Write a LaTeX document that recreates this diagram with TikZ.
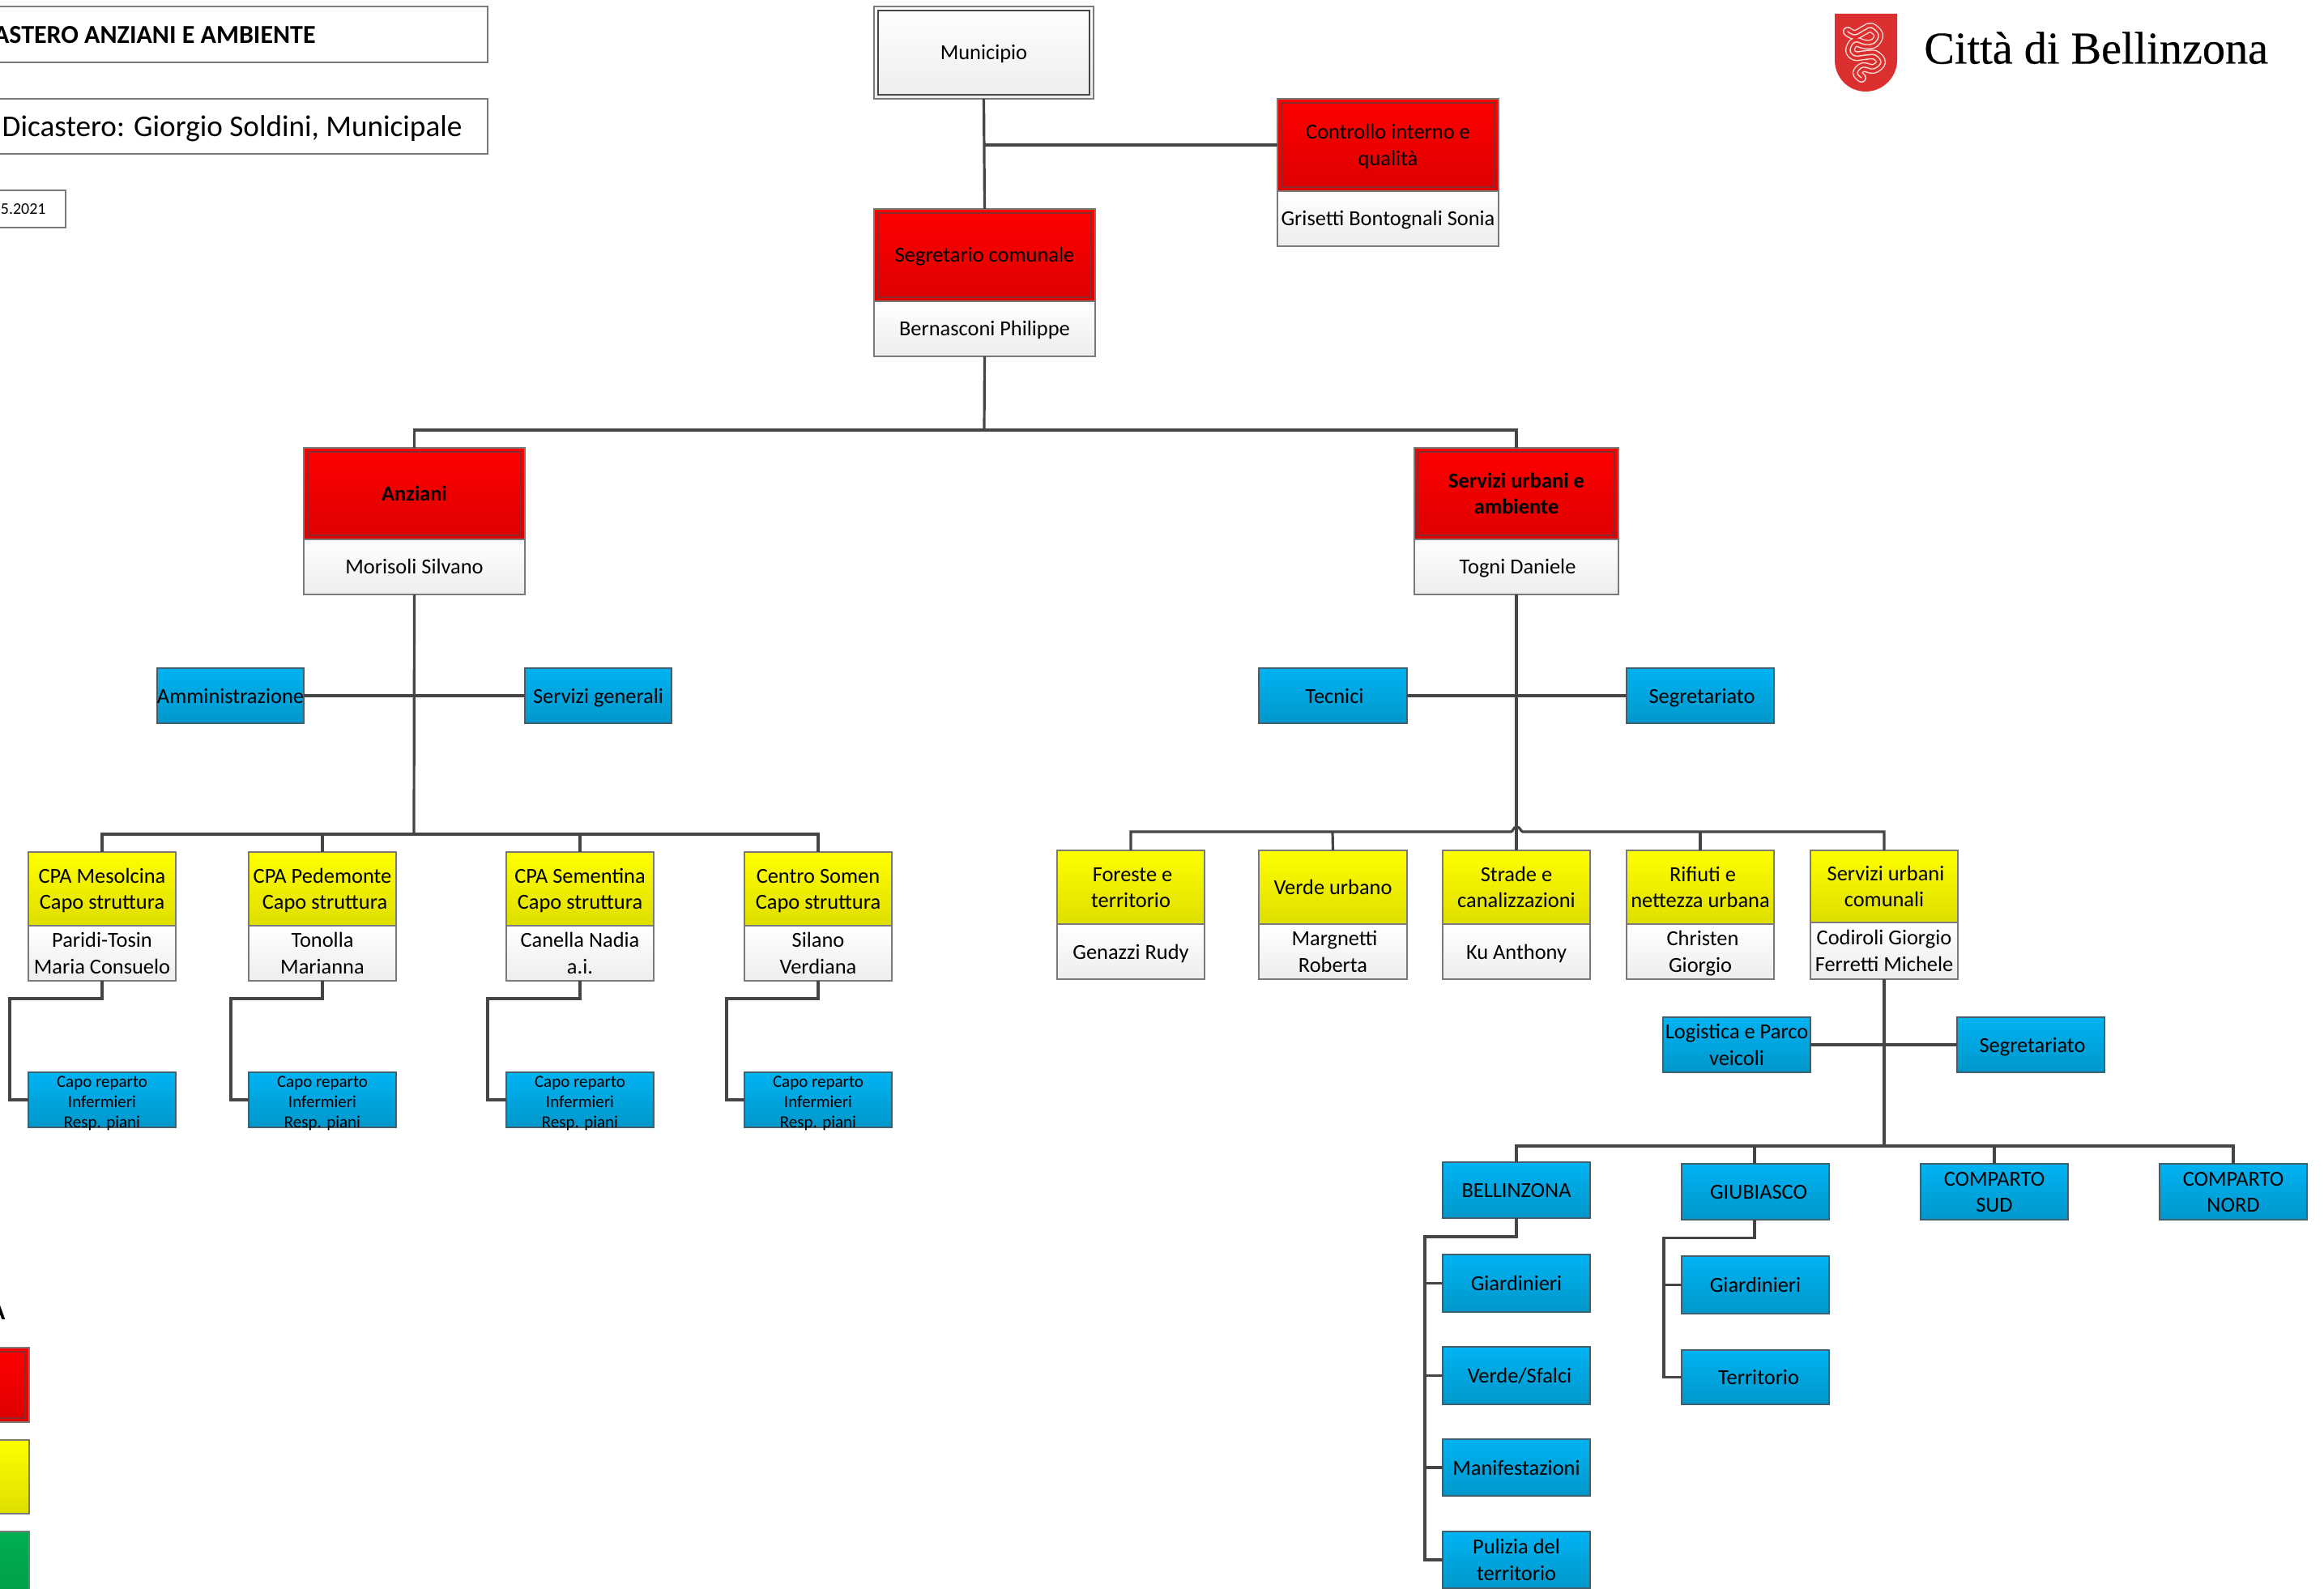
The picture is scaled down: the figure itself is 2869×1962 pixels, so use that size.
\documentclass[tikz,border=0pt]{standalone}
\usepackage{fontspec}
\setmainfont{Carlito}
\newfontfamily\logofont[FakeBold=0.4]{Liberation Serif}
\definecolor{linec}{HTML}{454545}
\definecolor{edgeg}{HTML}{7A7A7A}
\definecolor{edgeb}{HTML}{40606E}
\definecolor{shieldc}{HTML}{DC2F2F}
\definecolor{insetr}{HTML}{8B2A2A}
\definecolor{snakec}{HTML}{F7DED6}
\definecolor{blue1}{HTML}{00B3F2}
\definecolor{blue2}{HTML}{0097CB}
\definecolor{green1}{HTML}{00B050}
\definecolor{green2}{HTML}{009A46}
\newcommand\boxtop{\rule{0pt}{11.5pt}}
\newcommand\boxbot{\rule[-2.5pt]{0pt}{2.5pt}}
\tikzset{
  x=0.5pt,y=-0.5pt,
  base/.style={rectangle,inner sep=0pt,outer sep=0pt,align=center,text=black,line width=1pt,font=\fontsize{13.2}{16.2}\selectfont},
  whitebox/.style={base,draw=edgeg,top color=white,bottom color=white!93!black},
  redbox/.style={base,draw=edgeg,top color=red,bottom color=red!87!black},
  yellowbox/.style={base,draw=edgeg,top color=yellow,bottom color=yellow!87!black},
  bluebox/.style={base,draw=edgeb,top color=blue1,bottom color=blue2},
  greenbox/.style={base,draw=edgeg,top color=green1,bottom color=green2},
  titlebox/.style={base,draw=edgeg,fill=white},
  small/.style={inner sep=0pt,align=center,text=black,font=\fontsize{10.5}{12.5}\selectfont},
  bold/.style={font=\fontsize{13.2}{16.2}\selectfont\bfseries},
  conn/.style={draw=linec,line width=1.6pt,line join=miter},
  innerline/.style={draw=#1,line width=0.8pt},
}
\newcommand\orgbox[7]{%
  \pgfmathsetmacro\bxw{(#4-#2)*0.5}\pgfmathsetmacro\byh{(#5-#3)*0.5}%
  \node[#6,minimum width=\bxw pt,minimum height=\byh pt] (#1) at ({(#2+#4)/2},{(#3+#5)/2}) {\boxtop#7\boxbot};}
\newcommand\repbox[3]{%
  \pgfmathsetmacro\bxw{(#3-#2)*0.5}%
  \node[bluebox,minimum width=\bxw pt,minimum height=34pt] (#1) at ({(#2+#3)/2},1358) {};
  \node[small] (#1t) at (#1.center) {\rule{0pt}{11.2pt}Capo reparto\\Infermieri\\Resp. piani\rule[-2pt]{0pt}{2pt}};}
\newcommand\inset[2]{\draw[innerline=#2] ([xshift=2.4pt,yshift=2.4pt]#1.south west) rectangle ([xshift=-2.4pt,yshift=-2.4pt]#1.north east);}
\newcommand\elbow[3]{%
  \coordinate (#1v) at (#3,1233);
  \draw[conn] (#2.south) |- (#1v) |- (#1.west);}
\begin{document}
\begin{tikzpicture}
\clip (0,0) rectangle (2869,1962);
\fill[white] (0,0) rectangle (2869,1962);

% title boxes
\orgbox{tA}{-60}{8}{602}{77}{titlebox}{}
\orgbox{tB}{-60}{122}{602}{190}{titlebox}{}
\orgbox{tC}{-60}{235}{81}{281}{titlebox}{}
\node[anchor=east,inner sep=0pt,font=\fontsize{16}{18}\selectfont\bfseries] (tAt) at (390,43) {ASTERO ANZIANI E AMBIENTE};
\node[anchor=east,inner sep=0pt,font=\fontsize{18.6}{22}\selectfont] (tBt) at (571,159) {Dicastero: Giorgio Soldini, Municipale};
\node[anchor=east,inner sep=0pt,font=\fontsize{10}{12}\selectfont] (tCt) at (57,258) {5.2021};

% logo
\path[fill=shieldc] (2265,17) -- (2342,17) -- (2342,74) .. controls (2342,96) and (2324,113) .. (2303,113) .. controls (2282,113) and (2265,96) .. (2265,74) -- cycle;
\foreach \w/\c in {6/snakec,4.6/shieldc,0.7/snakec}{
  \draw[line width=\w pt,color=\c,line cap=round] plot[smooth,tension=0.65] coordinates {(2281,39) (2290,43) (2302,37) (2310,34) (2319,43) (2314,53) (2303,55) (2290,52) (2284,62) (2290,69) (2303,68) (2315,68) (2322,77) (2313,85) (2300,83) (2293,90) (2298,96)};
}
\node[anchor=base west,inner sep=0pt,font=\logofont\fontsize{28.1}{30}\selectfont] (logot) at (2375,78.5) {Città di Bellinzona};

% top
\orgbox{mun}{1079}{8}{1350}{122}{whitebox}{Municipio}
\inset{mun}{linec}
\orgbox{ctr}{1577}{122}{1850}{236}{redbox}{Controllo interno e\\qualità}
\inset{ctr}{insetr}
\orgbox{ctrw}{1577}{236}{1850}{304}{whitebox}{Grisetti Bontognali Sonia}
\orgbox{seg}{1079}{258}{1352}{372}{redbox}{Segretario comunale}
\inset{seg}{insetr}
\orgbox{segw}{1079}{372}{1352}{440}{whitebox}{Bernasconi Philippe}
\coordinate (j0) at (1215,179);
\draw[conn] (mun.south) -- (seg.north);
\draw[conn,line width=1.7pt] (j0) -- (ctr.west);

% directions
\orgbox{anz}{375}{553}{648}{666}{redbox,bold}{Anziani}
\inset{anz}{insetr}
\orgbox{anzw}{375}{666}{648}{734}{whitebox}{Morisoli Silvano}
\orgbox{srv}{1746}{553}{1998}{666}{redbox,bold}{Servizi urbani e\\ambiente}
\inset{srv}{insetr}
\orgbox{srvw}{1746}{666}{1998}{734}{whitebox}{\hspace*{1.5pt}Togni Daniele}
\coordinate (bus0) at (1215,531);
\draw[conn] (segw.south) -- (bus0);
\draw[conn] (bus0) -| (anz.north);
\draw[conn] (bus0) -| (srv.north);

% staff left
\orgbox{amm}{194}{825}{375}{893}{bluebox}{Amministrazione}
\orgbox{sgen}{648}{825}{829}{893}{bluebox}{Servizi generali}
\draw[conn] (amm.east) -- (sgen.west);

% CPA
\orgbox{cpa1}{35}{1052}{217}{1143}{yellowbox}{CPA Mesolcina\\Capo struttura}
\orgbox{cpa1w}{35}{1143}{217}{1211}{whitebox}{Paridi-Tosin\\Maria Consuelo}
\orgbox{cpa2}{307}{1052}{489}{1143}{yellowbox}{CPA Pedemonte\\\hspace*{3pt}Capo struttura}
\orgbox{cpa2w}{307}{1143}{489}{1211}{whitebox}{Tonolla\\Marianna}
\orgbox{cpa3}{625}{1052}{807}{1143}{yellowbox}{CPA Sementina\\Capo struttura}
\orgbox{cpa3w}{625}{1143}{807}{1211}{whitebox}{Canella Nadia\\a.i.}
\orgbox{cpa4}{919}{1052}{1101}{1143}{yellowbox}{Centro Somen\\Capo struttura}
\orgbox{cpa4w}{919}{1143}{1101}{1211}{whitebox}{Silano\\Verdiana}
\coordinate (bus1) at (511,1030);
\draw[conn] (anzw.south) -- (bus1);
\draw[conn] (bus1) -| (cpa1.north);
\draw[conn] (bus1) -| (cpa2.north);
\draw[conn] (bus1) -| (cpa3.north);
\draw[conn] (bus1) -| (cpa4.north);

\repbox{rep1}{35}{217}
\repbox{rep2}{307}{489}
\repbox{rep3}{625}{807}
\repbox{rep4}{919}{1101}
\elbow{rep1}{cpa1w}{12}
\elbow{rep2}{cpa2w}{285}
\elbow{rep3}{cpa3w}{602}
\elbow{rep4}{cpa4w}{897}

% staff right
\orgbox{tec}{1554}{825}{1737}{893}{bluebox}{\hspace*{2pt}Tecnici}
\orgbox{segr}{2008}{825}{2190}{893}{bluebox}{\hspace*{2pt}Segretariato}
\draw[conn] (tec.east) -- (segr.west);

% services
\orgbox{for}{1305}{1050}{1487}{1141}{yellowbox}{\hspace*{2pt}Foreste e\\territorio}
\orgbox{forw}{1305}{1141}{1487}{1209}{whitebox}{Genazzi Rudy}
\orgbox{ver}{1554}{1050}{1737}{1141}{yellowbox}{Verde urbano}
\orgbox{verw}{1554}{1141}{1737}{1209}{whitebox}{\hspace*{2pt}Margnetti\\Roberta}
\orgbox{str}{1781}{1050}{1963}{1141}{yellowbox}{Strade e\\canalizzazioni}
\orgbox{strw}{1781}{1141}{1963}{1209}{whitebox}{Ku Anthony}
\orgbox{rif}{2008}{1050}{2190}{1141}{yellowbox}{\hspace*{3pt}Rifiuti e\\nettezza urbana}
\orgbox{rifw}{2008}{1141}{2190}{1209}{whitebox}{\hspace*{3pt}Christen\\Giorgio}
\orgbox{suc}{2235}{1050}{2417}{1139}{yellowbox}{\hspace*{2pt}Servizi urbani\\comunali}
\orgbox{sucw}{2235}{1139}{2417}{1209}{whitebox}{Codiroli Giorgio\\Ferretti Michele}
\coordinate (jl) at (1865,1027);
\coordinate (jr) at (1880,1027);
\draw[conn] (srvw.south) -- (str.north);
\draw[conn] (for.north) |- (jl) .. controls (1868,1027) and (1868,1021) .. (1872.5,1021) .. controls (1877,1021) and (1877,1027) .. (jr) -| (suc.north);
\coordinate (b2a) at (1645,1027);
\coordinate (b2b) at (2099,1027);
\draw[conn] (b2a) -- (ver.north);
\draw[conn] (b2b) -- (rif.north);

% SUC subtree
\orgbox{log}{2053}{1256}{2235}{1324}{bluebox}{Logistica e Parco\\veicoli}
\orgbox{segs}{2416}{1256}{2598}{1324}{bluebox}{\hspace*{2pt}Segretariato}
\draw[conn] (log.east) -- (segs.west);
\coordinate (bus3) at (2326,1415);
\orgbox{bel}{1781}{1435}{1963}{1504}{bluebox}{BELLINZONA}
\orgbox{giu}{2076}{1437}{2258}{1506}{bluebox}{\hspace*{4pt}GIUBIASCO}
\orgbox{csud}{2371}{1437}{2553}{1506}{bluebox}{COMPARTO\\SUD}
\orgbox{cnor}{2666}{1437}{2848}{1506}{bluebox}{COMPARTO\\NORD}
\draw[conn] (sucw.south) -- (bus3);
\draw[conn] (bus3) -| (bel.north);
\coordinate (gt) at (2166,1415);
\draw[conn] (gt) -- (gt |- giu.north);
\draw[conn] (bus3) -| (csud.north);
\draw[conn] (bus3) -| (cnor.north);

\orgbox{bg}{1781}{1549}{1963}{1620}{bluebox}{Giardinieri}
\orgbox{bv}{1781}{1663}{1963}{1734}{bluebox}{\hspace*{4pt}Verde/Sfalci}
\orgbox{bm}{1781}{1777}{1963}{1847}{bluebox}{Manifestazioni}
\orgbox{bp}{1781}{1891}{1963}{1961}{bluebox}{Pulizia del\\territorio}
\coordinate (belv) at (1759,1527);
\draw[conn] (bel.south) |- (belv) |- (bp.west);
\coordinate (belg) at (1759,1584.5);
\coordinate (belh) at (1759,1698.5);
\coordinate (beli) at (1759,1812);
\draw[conn] (belg) -- (bg.west);
\draw[conn] (belh) -- (bv.west);
\draw[conn] (beli) -- (bm.west);

\orgbox{gg}{2076}{1551}{2258}{1622}{bluebox}{Giardinieri}
\orgbox{gte}{2076}{1667}{2258}{1734}{bluebox}{\hspace*{4pt}Territorio}
\coordinate (giuv) at (2054,1528.5);
\draw[conn] (gt |- giu.south) |- (giuv) |- (gte.west);
\coordinate (giug) at (2054,1586.5);
\draw[conn] (giug) -- (gg.west);

% legend
\node[anchor=east,inner sep=0pt,font=\fontsize{16}{18}\selectfont\bfseries] (legt) at (7,1619) {A};
\orgbox{lr}{-60}{1664}{36}{1756}{redbox}{}
\inset{lr}{insetr}
\orgbox{ly}{-60}{1778}{36}{1869}{yellowbox}{}
\orgbox{lg}{-60}{1891}{36}{1990}{greenbox}{}
\end{tikzpicture}
\end{document}
